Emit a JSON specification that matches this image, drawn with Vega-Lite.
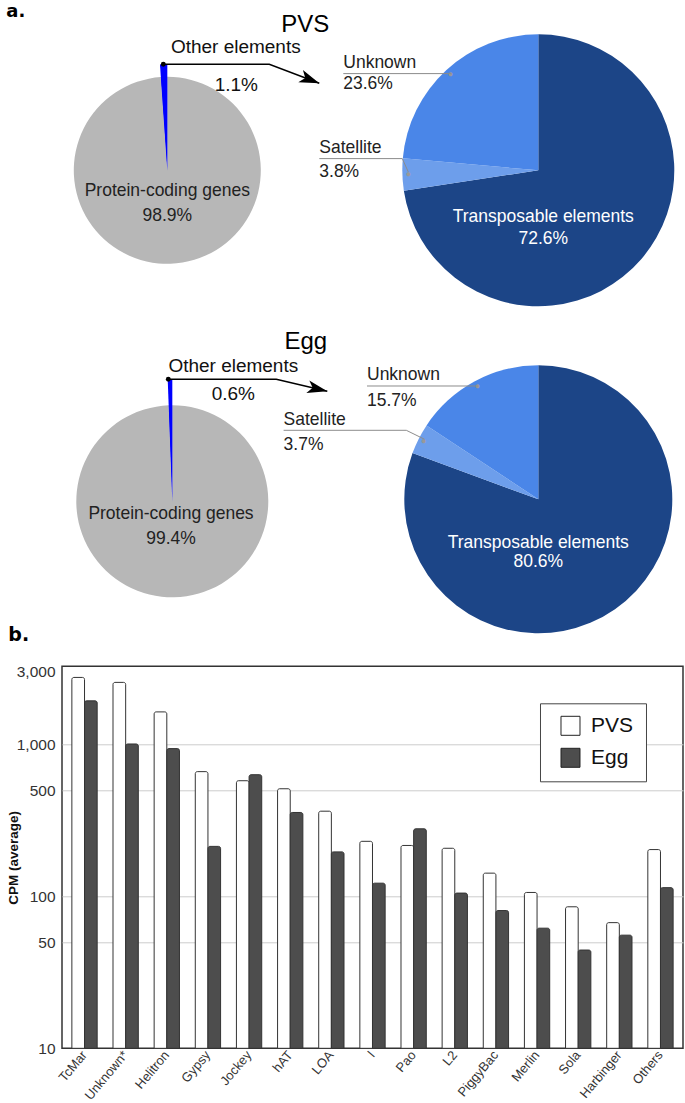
{
  "$schema": "https://vega.github.io/schema/vega-lite/v6.json",
  "padding": {"left": 5, "top": 2.3, "right": 2, "bottom": 2},
  "config": {"font": "Liberation Sans", "view": {"stroke": null}},
  "datasets": {
    "pvsGenome": [
      {"category": "Protein-coding genes", "share": 0.989, "rank": 1},
      {"category": "Other elements", "share": 0.011, "rank": 2}
    ],
    "pvsOther": [
      {"category": "Transposable elements", "share": 0.726, "rank": 1},
      {"category": "Satellite", "share": 0.038, "rank": 2},
      {"category": "Unknown", "share": 0.236, "rank": 3}
    ],
    "eggGenome": [
      {"category": "Protein-coding genes", "share": 0.994, "rank": 1},
      {"category": "Other elements", "share": 0.006, "rank": 2}
    ],
    "eggOther": [
      {"category": "Transposable elements", "share": 0.806, "rank": 1},
      {"category": "Satellite", "share": 0.037, "rank": 2},
      {"category": "Unknown", "share": 0.157, "rank": 3}
    ],
    "pvsArrow": [
      {"i": 0, "x": 162, "y": 64},
      {"i": 1, "x": 268, "y": 64},
      {"i": 2, "x": 318, "y": 83}
    ],
    "eggArrow": [
      {"i": 0, "x": 167, "y": 379},
      {"i": 1, "x": 275, "y": 379},
      {"i": 2, "x": 326, "y": 391}
    ],
    "pvsLeaders": [
      {"slice": "Unknown", "i": 0, "x": 342, "y": 73.3},
      {"slice": "Unknown", "i": 1, "x": 450, "y": 73.3},
      {"slice": "Satellite", "i": 0, "x": 318, "y": 158.3},
      {"slice": "Satellite", "i": 1, "x": 401, "y": 158.3},
      {"slice": "Satellite", "i": 2, "x": 407, "y": 171.7}
    ],
    "eggLeaders": [
      {"slice": "Unknown", "i": 0, "x": 365.7, "y": 385.7},
      {"slice": "Unknown", "i": 1, "x": 476.7, "y": 385.7},
      {"slice": "Satellite", "i": 0, "x": 282.3, "y": 430},
      {"slice": "Satellite", "i": 1, "x": 405, "y": 430},
      {"slice": "Satellite", "i": 2, "x": 423.3, "y": 439}
    ],
    "cpm": [
      {"family": "TcMar", "stage": "PVS", "cpm": 2754},
      {"family": "TcMar", "stage": "Egg", "cpm": 1932},
      {"family": "Unknown", "stage": "PVS", "cpm": 2555},
      {"family": "Unknown", "stage": "Egg", "cpm": 1005},
      {"family": "Helitron", "stage": "PVS", "cpm": 1634},
      {"family": "Helitron", "stage": "Egg", "cpm": 937},
      {"family": "Gypsy", "stage": "PVS", "cpm": 661},
      {"family": "Gypsy", "stage": "Egg", "cpm": 213},
      {"family": "Jockey", "stage": "PVS", "cpm": 576},
      {"family": "Jockey", "stage": "Egg", "cpm": 631},
      {"family": "hAT", "stage": "PVS", "cpm": 510},
      {"family": "hAT", "stage": "Egg", "cpm": 356},
      {"family": "LOA", "stage": "PVS", "cpm": 363},
      {"family": "LOA", "stage": "Egg", "cpm": 196},
      {"family": "I", "stage": "PVS", "cpm": 230},
      {"family": "I", "stage": "Egg", "cpm": 122},
      {"family": "Pao", "stage": "PVS", "cpm": 216},
      {"family": "Pao", "stage": "Egg", "cpm": 278},
      {"family": "L2", "stage": "PVS", "cpm": 207},
      {"family": "L2", "stage": "Egg", "cpm": 105},
      {"family": "PiggyBac", "stage": "PVS", "cpm": 142},
      {"family": "PiggyBac", "stage": "Egg", "cpm": 80.6},
      {"family": "Merlin", "stage": "PVS", "cpm": 106},
      {"family": "Merlin", "stage": "Egg", "cpm": 61.7},
      {"family": "Sola", "stage": "PVS", "cpm": 85.3},
      {"family": "Sola", "stage": "Egg", "cpm": 44.3},
      {"family": "Harbinger", "stage": "PVS", "cpm": 67.1},
      {"family": "Harbinger", "stage": "Egg", "cpm": 55.5},
      {"family": "Others", "stage": "PVS", "cpm": 203},
      {"family": "Others", "stage": "Egg", "cpm": 114}
    ]
  },
  "spacing": 33,
  "bounds": "flush",
  "resolve": {
    "scale": {"x": "independent", "y": "independent", "xOffset": "independent", "fill": "independent", "color": "independent", "theta": "independent"},
    "legend": {"fill": "independent"}
  },
  "vconcat": [
    {
      "width": 621, "height": 298,
      "layer": [
        {
          "data": {"name": "pvsGenome"},
          "mark": {"type": "arc", "outerRadius": 106},
          "encoding": {
            "x": {"datum": 166, "type": "quantitative", "scale": {"domain": [60.7, 681.7], "nice": false, "zero": false}, "axis": null},
            "y": {"datum": 170, "type": "quantitative", "scale": {"domain": [34, 332], "nice": false, "zero": false, "reverse": true}, "axis": null},
            "theta": {"field": "share", "type": "quantitative", "stack": true, "scale": {"domain": [0, 1]}},
            "order": {"field": "rank", "type": "quantitative"},
            "color": {"field": "category", "type": "nominal", "legend": null, "scale": {"domain": ["Protein-coding genes", "Other elements", "Transposable elements", "Satellite", "Unknown"], "range": ["#b7b7b7", "#0000ff", "#1c4587", "#6d9eeb", "#4a86e8"]}},
            "opacity": {"condition": {"test": "datum.category === 'Other elements'", "value": 1}, "value": 0}
          }
        },
        {
          "data": {"name": "pvsGenome"},
          "mark": {"type": "arc", "outerRadius": 93.5},
          "encoding": {
            "x": {"datum": 166, "type": "quantitative", "scale": {"domain": [60.7, 681.7], "nice": false, "zero": false}, "axis": null},
            "y": {"datum": 170, "type": "quantitative", "scale": {"domain": [34, 332], "nice": false, "zero": false, "reverse": true}, "axis": null},
            "theta": {"field": "share", "type": "quantitative", "stack": true, "scale": {"domain": [0, 1]}},
            "order": {"field": "rank", "type": "quantitative"},
            "color": {"field": "category", "type": "nominal", "legend": null, "scale": {"domain": ["Protein-coding genes", "Other elements", "Transposable elements", "Satellite", "Unknown"], "range": ["#b7b7b7", "#0000ff", "#1c4587", "#6d9eeb", "#4a86e8"]}}
          }
        },
        {
          "data": {"name": "pvsOther"},
          "mark": {"type": "arc", "outerRadius": 136},
          "encoding": {
            "x": {"datum": 537, "type": "quantitative", "scale": {"domain": [60.7, 681.7], "nice": false, "zero": false}, "axis": null},
            "y": {"datum": 170, "type": "quantitative", "scale": {"domain": [34, 332], "nice": false, "zero": false, "reverse": true}, "axis": null},
            "theta": {"field": "share", "type": "quantitative", "stack": true, "scale": {"domain": [0, 1]}},
            "order": {"field": "rank", "type": "quantitative"},
            "color": {"field": "category", "type": "nominal", "legend": null, "scale": {"domain": ["Protein-coding genes", "Other elements", "Transposable elements", "Satellite", "Unknown"], "range": ["#b7b7b7", "#0000ff", "#1c4587", "#6d9eeb", "#4a86e8"]}}
          }
        },
        {
          "data": {"name": "pvsOther"},
          "mark": {"type": "text", "fontSize": 9, "color": "#999999", "baseline": "middle", "align": "center"},
          "encoding": {
            "x": {"datum": 537, "type": "quantitative", "scale": {"domain": [60.7, 681.7], "nice": false, "zero": false}, "axis": null},
            "y": {"datum": 170, "type": "quantitative", "scale": {"domain": [34, 332], "nice": false, "zero": false, "reverse": true}, "axis": null},
            "theta": {"field": "share", "type": "quantitative", "stack": true, "scale": {"domain": [0, 1]}},
            "order": {"field": "rank", "type": "quantitative"},
            "radius": {"value": 130},
            "text": {"condition": {"test": "datum.category !== 'Transposable elements'", "value": "●"}, "value": ""}
          }
        },
        {
          "data": {"name": "pvsLeaders"},
          "mark": {"type": "line", "color": "#8c8c8c", "strokeWidth": 1},
          "encoding": {
            "x": {"field": "x", "type": "quantitative", "scale": {"domain": [60.7, 681.7], "nice": false, "zero": false}, "axis": null},
            "y": {"field": "y", "type": "quantitative", "scale": {"domain": [34, 332], "nice": false, "zero": false, "reverse": true}, "axis": null},
            "detail": {"field": "slice"},
            "order": {"field": "i", "type": "quantitative"}
          }
        },
        {
          "data": {"name": "pvsArrow"},
          "mark": {"type": "line", "color": "#000", "strokeWidth": 1.5},
          "encoding": {
            "x": {"field": "x", "type": "quantitative", "scale": {"domain": [60.7, 681.7], "nice": false, "zero": false}, "axis": null},
            "y": {"field": "y", "type": "quantitative", "scale": {"domain": [34, 332], "nice": false, "zero": false, "reverse": true}, "axis": null},
            "order": {"field": "i", "type": "quantitative"}
          }
        },
        {
          "data": {"name": "pvsArrow"},
          "transform": [{"filter": "datum.i === 0"}],
          "mark": {"type": "point", "filled": true, "color": "#000", "size": 24, "opacity": 1},
          "encoding": {
            "x": {"field": "x", "type": "quantitative", "scale": {"domain": [60.7, 681.7], "nice": false, "zero": false}, "axis": null},
            "y": {"field": "y", "type": "quantitative", "scale": {"domain": [34, 332], "nice": false, "zero": false, "reverse": true}, "axis": null}
          }
        },
        {
          "data": {"name": "pvsArrow"},
          "transform": [{"filter": "datum.i === 2"}],
          "mark": {"type": "point", "filled": true, "color": "#000", "shape": "M0,0L-4,-1.3L-3,0L-4,1.3Z", "size": 100, "angle": 20.8, "opacity": 1},
          "encoding": {
            "x": {"field": "x", "type": "quantitative", "scale": {"domain": [60.7, 681.7], "nice": false, "zero": false}, "axis": null},
            "y": {"field": "y", "type": "quantitative", "scale": {"domain": [34, 332], "nice": false, "zero": false, "reverse": true}, "axis": null}
          }
        },
        {
          "data": {"name": "pvsGenome"},
          "transform": [{"filter": "datum.category === 'Protein-coding genes'"}],
          "mark": {"type": "text", "baseline": "alphabetic", "align": "center", "fontSize": 17.5, "color": "#222"},
          "encoding": {
            "x": {"datum": 166, "type": "quantitative", "scale": {"domain": [60.7, 681.7], "nice": false, "zero": false}, "axis": null},
            "y": {"datum": 195.7, "type": "quantitative", "scale": {"domain": [34, 332], "nice": false, "zero": false, "reverse": true}, "axis": null},
            "text": {"field": "category"}
          }
        },
        {
          "data": {"name": "pvsGenome"},
          "transform": [{"filter": "datum.category === 'Protein-coding genes'"}],
          "mark": {"type": "text", "baseline": "alphabetic", "align": "center", "fontSize": 17.5, "color": "#222"},
          "encoding": {
            "x": {"datum": 166, "type": "quantitative", "scale": {"domain": [60.7, 681.7], "nice": false, "zero": false}, "axis": null},
            "y": {"datum": 220.7, "type": "quantitative", "scale": {"domain": [34, 332], "nice": false, "zero": false, "reverse": true}, "axis": null},
            "text": {"field": "share", "type": "quantitative", "format": ".1%"}
          }
        },
        {
          "data": {"name": "pvsGenome"},
          "transform": [{"filter": "datum.category === 'Other elements'"}],
          "mark": {"type": "text", "baseline": "alphabetic", "align": "center", "fontSize": 19, "color": "#111"},
          "encoding": {
            "x": {"datum": 234.5, "type": "quantitative", "scale": {"domain": [60.7, 681.7], "nice": false, "zero": false}, "axis": null},
            "y": {"datum": 53, "type": "quantitative", "scale": {"domain": [34, 332], "nice": false, "zero": false, "reverse": true}, "axis": null},
            "text": {"field": "category"}
          }
        },
        {
          "data": {"name": "pvsGenome"},
          "transform": [{"filter": "datum.category === 'Other elements'"}],
          "mark": {"type": "text", "baseline": "alphabetic", "align": "center", "fontSize": 19, "color": "#111"},
          "encoding": {
            "x": {"datum": 235, "type": "quantitative", "scale": {"domain": [60.7, 681.7], "nice": false, "zero": false}, "axis": null},
            "y": {"datum": 91, "type": "quantitative", "scale": {"domain": [34, 332], "nice": false, "zero": false, "reverse": true}, "axis": null},
            "text": {"field": "share", "type": "quantitative", "format": ".1%"}
          }
        },
        {
          "data": {"name": "pvsOther"},
          "transform": [{"filter": "datum.category === 'Unknown'"}],
          "mark": {"type": "text", "baseline": "alphabetic", "align": "left", "fontSize": 17.5, "color": "#222"},
          "encoding": {
            "x": {"datum": 342, "type": "quantitative", "scale": {"domain": [60.7, 681.7], "nice": false, "zero": false}, "axis": null},
            "y": {"datum": 67.7, "type": "quantitative", "scale": {"domain": [34, 332], "nice": false, "zero": false, "reverse": true}, "axis": null},
            "text": {"field": "category"}
          }
        },
        {
          "data": {"name": "pvsOther"},
          "transform": [{"filter": "datum.category === 'Unknown'"}],
          "mark": {"type": "text", "baseline": "alphabetic", "align": "left", "fontSize": 17.5, "color": "#222"},
          "encoding": {
            "x": {"datum": 342, "type": "quantitative", "scale": {"domain": [60.7, 681.7], "nice": false, "zero": false}, "axis": null},
            "y": {"datum": 88.3, "type": "quantitative", "scale": {"domain": [34, 332], "nice": false, "zero": false, "reverse": true}, "axis": null},
            "text": {"field": "share", "type": "quantitative", "format": ".1%"}
          }
        },
        {
          "data": {"name": "pvsOther"},
          "transform": [{"filter": "datum.category === 'Satellite'"}],
          "mark": {"type": "text", "baseline": "alphabetic", "align": "left", "fontSize": 17.5, "color": "#222"},
          "encoding": {
            "x": {"datum": 318, "type": "quantitative", "scale": {"domain": [60.7, 681.7], "nice": false, "zero": false}, "axis": null},
            "y": {"datum": 152.7, "type": "quantitative", "scale": {"domain": [34, 332], "nice": false, "zero": false, "reverse": true}, "axis": null},
            "text": {"field": "category"}
          }
        },
        {
          "data": {"name": "pvsOther"},
          "transform": [{"filter": "datum.category === 'Satellite'"}],
          "mark": {"type": "text", "baseline": "alphabetic", "align": "left", "fontSize": 17.5, "color": "#222"},
          "encoding": {
            "x": {"datum": 318, "type": "quantitative", "scale": {"domain": [60.7, 681.7], "nice": false, "zero": false}, "axis": null},
            "y": {"datum": 176.7, "type": "quantitative", "scale": {"domain": [34, 332], "nice": false, "zero": false, "reverse": true}, "axis": null},
            "text": {"field": "share", "type": "quantitative", "format": ".1%"}
          }
        },
        {
          "data": {"name": "pvsOther"},
          "transform": [{"filter": "datum.category === 'Transposable elements'"}],
          "mark": {"type": "text", "baseline": "alphabetic", "align": "center", "fontSize": 17.5, "color": "#ffffff"},
          "encoding": {
            "x": {"datum": 542, "type": "quantitative", "scale": {"domain": [60.7, 681.7], "nice": false, "zero": false}, "axis": null},
            "y": {"datum": 221.7, "type": "quantitative", "scale": {"domain": [34, 332], "nice": false, "zero": false, "reverse": true}, "axis": null},
            "text": {"field": "category"}
          }
        },
        {
          "data": {"name": "pvsOther"},
          "transform": [{"filter": "datum.category === 'Transposable elements'"}],
          "mark": {"type": "text", "baseline": "alphabetic", "align": "center", "fontSize": 17.5, "color": "#ffffff"},
          "encoding": {
            "x": {"datum": 542, "type": "quantitative", "scale": {"domain": [60.7, 681.7], "nice": false, "zero": false}, "axis": null},
            "y": {"datum": 244, "type": "quantitative", "scale": {"domain": [34, 332], "nice": false, "zero": false, "reverse": true}, "axis": null},
            "text": {"field": "share", "type": "quantitative", "format": ".1%"}
          }
        },
        {
          "data": {"values": [{"label": "PVS"}]},
          "mark": {"type": "text", "baseline": "alphabetic", "align": "center", "fontSize": 24, "color": "#000"},
          "encoding": {
            "x": {"datum": 304, "type": "quantitative", "scale": {"domain": [60.7, 681.7], "nice": false, "zero": false}, "axis": null},
            "y": {"datum": 32, "type": "quantitative", "scale": {"domain": [34, 332], "nice": false, "zero": false, "reverse": true}, "axis": null},
            "text": {"field": "label"}
          }
        },
        {
          "data": {"values": [{"label": "a."}]},
          "mark": {"type": "text", "baseline": "alphabetic", "align": "left", "fontSize": 18, "font": "DejaVu Sans", "fontWeight": "bold", "color": "#000"},
          "encoding": {
            "x": {"datum": 5, "type": "quantitative", "scale": {"domain": [60.7, 681.7], "nice": false, "zero": false}, "axis": null},
            "y": {"datum": 16.5, "type": "quantitative", "scale": {"domain": [34, 332], "nice": false, "zero": false, "reverse": true}, "axis": null},
            "text": {"field": "label"}
          }
        }
      ]
    },
    {
      "width": 621, "height": 268,
      "layer": [
        {
          "data": {"name": "eggGenome"},
          "mark": {"type": "arc", "outerRadius": 122},
          "encoding": {
            "x": {"datum": 171, "type": "quantitative", "scale": {"domain": [60.7, 681.7], "nice": false, "zero": false}, "axis": null},
            "y": {"datum": 501, "type": "quantitative", "scale": {"domain": [365, 633], "nice": false, "zero": false, "reverse": true}, "axis": null},
            "theta": {"field": "share", "type": "quantitative", "stack": true, "scale": {"domain": [0, 1]}},
            "order": {"field": "rank", "type": "quantitative"},
            "color": {"field": "category", "type": "nominal", "legend": null, "scale": {"domain": ["Protein-coding genes", "Other elements", "Transposable elements", "Satellite", "Unknown"], "range": ["#b7b7b7", "#0000ff", "#1c4587", "#6d9eeb", "#4a86e8"]}},
            "opacity": {"condition": {"test": "datum.category === 'Other elements'", "value": 1}, "value": 0}
          }
        },
        {
          "data": {"name": "eggGenome"},
          "mark": {"type": "arc", "outerRadius": 96},
          "encoding": {
            "x": {"datum": 171, "type": "quantitative", "scale": {"domain": [60.7, 681.7], "nice": false, "zero": false}, "axis": null},
            "y": {"datum": 501, "type": "quantitative", "scale": {"domain": [365, 633], "nice": false, "zero": false, "reverse": true}, "axis": null},
            "theta": {"field": "share", "type": "quantitative", "stack": true, "scale": {"domain": [0, 1]}},
            "order": {"field": "rank", "type": "quantitative"},
            "color": {"field": "category", "type": "nominal", "legend": null, "scale": {"domain": ["Protein-coding genes", "Other elements", "Transposable elements", "Satellite", "Unknown"], "range": ["#b7b7b7", "#0000ff", "#1c4587", "#6d9eeb", "#4a86e8"]}}
          }
        },
        {
          "data": {"name": "eggOther"},
          "mark": {"type": "arc", "outerRadius": 134},
          "encoding": {
            "x": {"datum": 537, "type": "quantitative", "scale": {"domain": [60.7, 681.7], "nice": false, "zero": false}, "axis": null},
            "y": {"datum": 499, "type": "quantitative", "scale": {"domain": [365, 633], "nice": false, "zero": false, "reverse": true}, "axis": null},
            "theta": {"field": "share", "type": "quantitative", "stack": true, "scale": {"domain": [0, 1]}},
            "order": {"field": "rank", "type": "quantitative"},
            "color": {"field": "category", "type": "nominal", "legend": null, "scale": {"domain": ["Protein-coding genes", "Other elements", "Transposable elements", "Satellite", "Unknown"], "range": ["#b7b7b7", "#0000ff", "#1c4587", "#6d9eeb", "#4a86e8"]}}
          }
        },
        {
          "data": {"name": "eggOther"},
          "mark": {"type": "text", "fontSize": 9, "color": "#999999", "baseline": "middle", "align": "center"},
          "encoding": {
            "x": {"datum": 537, "type": "quantitative", "scale": {"domain": [60.7, 681.7], "nice": false, "zero": false}, "axis": null},
            "y": {"datum": 499, "type": "quantitative", "scale": {"domain": [365, 633], "nice": false, "zero": false, "reverse": true}, "axis": null},
            "theta": {"field": "share", "type": "quantitative", "stack": true, "scale": {"domain": [0, 1]}},
            "order": {"field": "rank", "type": "quantitative"},
            "radius": {"value": 128.5},
            "text": {"condition": {"test": "datum.category !== 'Transposable elements'", "value": "●"}, "value": ""}
          }
        },
        {
          "data": {"name": "eggLeaders"},
          "mark": {"type": "line", "color": "#8c8c8c", "strokeWidth": 1},
          "encoding": {
            "x": {"field": "x", "type": "quantitative", "scale": {"domain": [60.7, 681.7], "nice": false, "zero": false}, "axis": null},
            "y": {"field": "y", "type": "quantitative", "scale": {"domain": [365, 633], "nice": false, "zero": false, "reverse": true}, "axis": null},
            "detail": {"field": "slice"},
            "order": {"field": "i", "type": "quantitative"}
          }
        },
        {
          "data": {"name": "eggArrow"},
          "mark": {"type": "line", "color": "#000", "strokeWidth": 1.5},
          "encoding": {
            "x": {"field": "x", "type": "quantitative", "scale": {"domain": [60.7, 681.7], "nice": false, "zero": false}, "axis": null},
            "y": {"field": "y", "type": "quantitative", "scale": {"domain": [365, 633], "nice": false, "zero": false, "reverse": true}, "axis": null},
            "order": {"field": "i", "type": "quantitative"}
          }
        },
        {
          "data": {"name": "eggArrow"},
          "transform": [{"filter": "datum.i === 0"}],
          "mark": {"type": "point", "filled": true, "color": "#000", "size": 24, "opacity": 1},
          "encoding": {
            "x": {"field": "x", "type": "quantitative", "scale": {"domain": [60.7, 681.7], "nice": false, "zero": false}, "axis": null},
            "y": {"field": "y", "type": "quantitative", "scale": {"domain": [365, 633], "nice": false, "zero": false, "reverse": true}, "axis": null}
          }
        },
        {
          "data": {"name": "eggArrow"},
          "transform": [{"filter": "datum.i === 2"}],
          "mark": {"type": "point", "filled": true, "color": "#000", "shape": "M0,0L-4,-1.3L-3,0L-4,1.3Z", "size": 100, "angle": 13.2, "opacity": 1},
          "encoding": {
            "x": {"field": "x", "type": "quantitative", "scale": {"domain": [60.7, 681.7], "nice": false, "zero": false}, "axis": null},
            "y": {"field": "y", "type": "quantitative", "scale": {"domain": [365, 633], "nice": false, "zero": false, "reverse": true}, "axis": null}
          }
        },
        {
          "data": {"name": "eggGenome"},
          "transform": [{"filter": "datum.category === 'Protein-coding genes'"}],
          "mark": {"type": "text", "baseline": "alphabetic", "align": "center", "fontSize": 17.5, "color": "#222"},
          "encoding": {
            "x": {"datum": 169.7, "type": "quantitative", "scale": {"domain": [60.7, 681.7], "nice": false, "zero": false}, "axis": null},
            "y": {"datum": 519, "type": "quantitative", "scale": {"domain": [365, 633], "nice": false, "zero": false, "reverse": true}, "axis": null},
            "text": {"field": "category"}
          }
        },
        {
          "data": {"name": "eggGenome"},
          "transform": [{"filter": "datum.category === 'Protein-coding genes'"}],
          "mark": {"type": "text", "baseline": "alphabetic", "align": "center", "fontSize": 17.5, "color": "#222"},
          "encoding": {
            "x": {"datum": 169.7, "type": "quantitative", "scale": {"domain": [60.7, 681.7], "nice": false, "zero": false}, "axis": null},
            "y": {"datum": 544, "type": "quantitative", "scale": {"domain": [365, 633], "nice": false, "zero": false, "reverse": true}, "axis": null},
            "text": {"field": "share", "type": "quantitative", "format": ".1%"}
          }
        },
        {
          "data": {"name": "eggGenome"},
          "transform": [{"filter": "datum.category === 'Other elements'"}],
          "mark": {"type": "text", "baseline": "alphabetic", "align": "center", "fontSize": 19, "color": "#111"},
          "encoding": {
            "x": {"datum": 232, "type": "quantitative", "scale": {"domain": [60.7, 681.7], "nice": false, "zero": false}, "axis": null},
            "y": {"datum": 372, "type": "quantitative", "scale": {"domain": [365, 633], "nice": false, "zero": false, "reverse": true}, "axis": null},
            "text": {"field": "category"}
          }
        },
        {
          "data": {"name": "eggGenome"},
          "transform": [{"filter": "datum.category === 'Other elements'"}],
          "mark": {"type": "text", "baseline": "alphabetic", "align": "center", "fontSize": 19, "color": "#111"},
          "encoding": {
            "x": {"datum": 232, "type": "quantitative", "scale": {"domain": [60.7, 681.7], "nice": false, "zero": false}, "axis": null},
            "y": {"datum": 400, "type": "quantitative", "scale": {"domain": [365, 633], "nice": false, "zero": false, "reverse": true}, "axis": null},
            "text": {"field": "share", "type": "quantitative", "format": ".1%"}
          }
        },
        {
          "data": {"name": "eggOther"},
          "transform": [{"filter": "datum.category === 'Unknown'"}],
          "mark": {"type": "text", "baseline": "alphabetic", "align": "left", "fontSize": 17.5, "color": "#222"},
          "encoding": {
            "x": {"datum": 365.7, "type": "quantitative", "scale": {"domain": [60.7, 681.7], "nice": false, "zero": false}, "axis": null},
            "y": {"datum": 380, "type": "quantitative", "scale": {"domain": [365, 633], "nice": false, "zero": false, "reverse": true}, "axis": null},
            "text": {"field": "category"}
          }
        },
        {
          "data": {"name": "eggOther"},
          "transform": [{"filter": "datum.category === 'Unknown'"}],
          "mark": {"type": "text", "baseline": "alphabetic", "align": "left", "fontSize": 17.5, "color": "#222"},
          "encoding": {
            "x": {"datum": 365.7, "type": "quantitative", "scale": {"domain": [60.7, 681.7], "nice": false, "zero": false}, "axis": null},
            "y": {"datum": 406, "type": "quantitative", "scale": {"domain": [365, 633], "nice": false, "zero": false, "reverse": true}, "axis": null},
            "text": {"field": "share", "type": "quantitative", "format": ".1%"}
          }
        },
        {
          "data": {"name": "eggOther"},
          "transform": [{"filter": "datum.category === 'Satellite'"}],
          "mark": {"type": "text", "baseline": "alphabetic", "align": "left", "fontSize": 17.5, "color": "#222"},
          "encoding": {
            "x": {"datum": 282.3, "type": "quantitative", "scale": {"domain": [60.7, 681.7], "nice": false, "zero": false}, "axis": null},
            "y": {"datum": 424.3, "type": "quantitative", "scale": {"domain": [365, 633], "nice": false, "zero": false, "reverse": true}, "axis": null},
            "text": {"field": "category"}
          }
        },
        {
          "data": {"name": "eggOther"},
          "transform": [{"filter": "datum.category === 'Satellite'"}],
          "mark": {"type": "text", "baseline": "alphabetic", "align": "left", "fontSize": 17.5, "color": "#222"},
          "encoding": {
            "x": {"datum": 282.3, "type": "quantitative", "scale": {"domain": [60.7, 681.7], "nice": false, "zero": false}, "axis": null},
            "y": {"datum": 450, "type": "quantitative", "scale": {"domain": [365, 633], "nice": false, "zero": false, "reverse": true}, "axis": null},
            "text": {"field": "share", "type": "quantitative", "format": ".1%"}
          }
        },
        {
          "data": {"name": "eggOther"},
          "transform": [{"filter": "datum.category === 'Transposable elements'"}],
          "mark": {"type": "text", "baseline": "alphabetic", "align": "center", "fontSize": 17.5, "color": "#ffffff"},
          "encoding": {
            "x": {"datum": 537, "type": "quantitative", "scale": {"domain": [60.7, 681.7], "nice": false, "zero": false}, "axis": null},
            "y": {"datum": 547.3, "type": "quantitative", "scale": {"domain": [365, 633], "nice": false, "zero": false, "reverse": true}, "axis": null},
            "text": {"field": "category"}
          }
        },
        {
          "data": {"name": "eggOther"},
          "transform": [{"filter": "datum.category === 'Transposable elements'"}],
          "mark": {"type": "text", "baseline": "alphabetic", "align": "center", "fontSize": 17.5, "color": "#ffffff"},
          "encoding": {
            "x": {"datum": 537, "type": "quantitative", "scale": {"domain": [60.7, 681.7], "nice": false, "zero": false}, "axis": null},
            "y": {"datum": 566.7, "type": "quantitative", "scale": {"domain": [365, 633], "nice": false, "zero": false, "reverse": true}, "axis": null},
            "text": {"field": "share", "type": "quantitative", "format": ".1%"}
          }
        },
        {
          "data": {"values": [{"label": "Egg"}]},
          "mark": {"type": "text", "baseline": "alphabetic", "align": "center", "fontSize": 24, "color": "#000"},
          "encoding": {
            "x": {"datum": 304.5, "type": "quantitative", "scale": {"domain": [60.7, 681.7], "nice": false, "zero": false}, "axis": null},
            "y": {"datum": 349, "type": "quantitative", "scale": {"domain": [365, 633], "nice": false, "zero": false, "reverse": true}, "axis": null},
            "text": {"field": "label"}
          }
        }
      ]
    },
    {
      "width": 621, "height": 382,
      "view": {"stroke": "#333333", "strokeWidth": 1.5},
      "title": {"text": "b.", "anchor": "start", "frame": "group", "dx": -53.7, "offset": 5, "baseline": "alphabetic", "font": "DejaVu Sans", "fontSize": 19, "fontWeight": "bold", "color": "#000"},
      "data": {"name": "cpm"},
      "mark": {"type": "bar", "stroke": "#333333", "strokeWidth": 1, "cornerRadiusTopLeft": 2, "cornerRadiusTopRight": 2},
      "encoding": {
        "x": {"field": "family", "type": "nominal", "sort": null, "scale": {"paddingInner": 0.385, "paddingOuter": 0.24},
              "axis": {"title": null, "labelAngle": -50, "labelFontSize": 13, "labelColor": "#333", "ticks": false, "domain": false, "labelPadding": 4,
                       "labelExpr": "datum.value === 'Unknown' ? 'Unknown*' : datum.value"}},
        "xOffset": {"field": "stage", "type": "nominal", "sort": ["PVS", "Egg"], "scale": {"paddingInner": 0}},
        "y": {"field": "cpm", "type": "quantitative", "stack": null, "scale": {"type": "log", "domain": [10, 3260], "nice": false},
              "axis": {"title": "CPM (average)", "values": [10, 50, 100, 500, 1000, 3000], "format": ",", "ticks": false, "domain": false,
                       "labelFontSize": 15.5, "labelColor": "#333", "labelPadding": 7, "titleFontSize": 13.5, "titleFontWeight": "bold", "titleColor": "#111", "titlePadding": -4,
                       "grid": true, "gridColor": {"condition": {"test": "datum.value === 3000 || datum.value === 10", "value": "transparent"}, "value": "#cccccc"}}},
        "y2": {"datum": 10},
        "fill": {"field": "stage", "type": "nominal", "sort": ["PVS", "Egg"], "scale": {"domain": ["PVS", "Egg"], "range": ["#ffffff", "#4d4d4d"]},
                 "legend": {"title": null, "orient": "top-right", "offset": 37, "symbolType": "square", "symbolSize": 361, "symbolStrokeColor": "#222", "symbolStrokeWidth": 1,
                            "labelFontSize": 21, "labelColor": "#111", "strokeColor": "#444", "fillColor": "#ffffff", "padding": 12, "rowPadding": 9, "labelOffset": 10, "symbolOffset": 8}}
      }
    }
  ]
}
